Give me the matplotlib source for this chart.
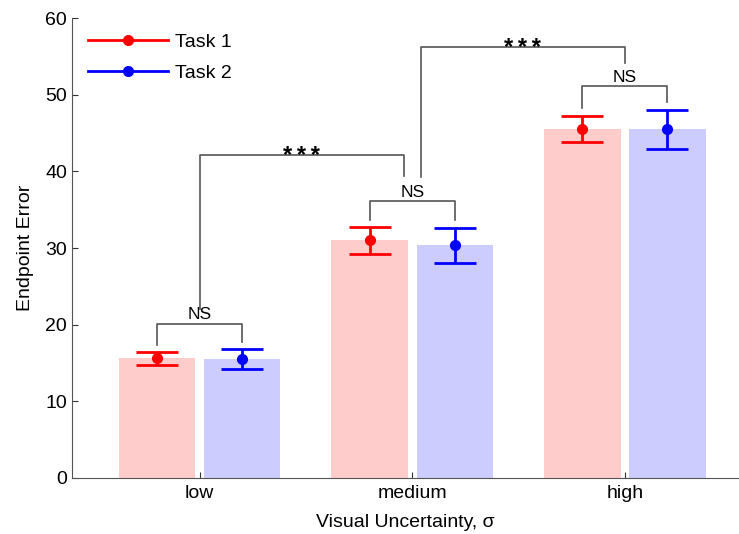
import numpy as np
from matplotlib import pyplot as plt

plt.rcParams['font.family'] = ['Liberation Sans', 'DejaVu Sans']

# endpoint error per uncertainty level
levels = ['low', 'medium', 'high']
task1_mean = [15.6, 31.0, 45.5]
task1_lo = [14.7, 29.2, 43.8]
task1_hi = [16.4, 32.8, 47.2]
task2_mean = [15.5, 30.4, 45.5]
task2_lo = [14.2, 28.1, 42.9]
task2_hi = [16.8, 32.6, 48.0]

x = np.arange(1, len(levels) + 1)
w = 0.36
off = 0.2

fig = plt.figure(figsize=(7.39, 5.34), dpi=100)
ax = fig.add_axes([0.0975, 0.105, 0.902, 0.861])

ax.bar(x - off, task1_mean, w, color='#ffcccc', zorder=1)
ax.bar(x + off, task2_mean, w, color='#ccccff', zorder=1)

for xs, m, lo, hi, c, lab in [(x - off, task1_mean, task1_lo, task1_hi, '#ff0000', 'Task 1'),
                              (x + off, task2_mean, task2_lo, task2_hi, '#0000ff', 'Task 2')]:
    m = np.array(m)
    err = [m - np.array(lo), np.array(hi) - m]
    ax.errorbar(xs, m, yerr=err, fmt='o', color=c, ms=7, elinewidth=2,
                capsize=15, capthick=2, zorder=3)
    ax.plot([], [], '-o', color=c, lw=2, ms=7, label=lab)


def bracket(x1, x2, y, y1, y2, text, stars=False):
    ax.plot([x1, x1, x2, x2], [y1, y, y, y2], color='#555555', lw=1.2, zorder=2)
    if stars:
        ax.text((x1 + x2) / 2, y - 1.0, '\u2009'.join(text), ha='center', va='baseline',
                fontsize=17, fontweight='bold')
    else:
        ax.text((x1 + x2) / 2, y + 0.2, text, ha='center', va='bottom', fontsize=12.5)


bracket(0.8, 1.2, 20.1, 17.4, 17.7, 'NS')
bracket(1.8, 2.2, 36.1, 33.6, 33.6, 'NS')
bracket(2.8, 3.2, 51.1, 48.3, 49.1, 'NS')
bracket(1.0, 1.96, 42.1, 22.0, 39.4, '***', stars=True)
bracket(2.04, 3.0, 56.2, 39.3, 54.2, '***', stars=True)

ax.set_xlim(0.4, 3.535)
ax.set_ylim(0, 60)
ax.set_xticks(x)
ax.set_xticklabels(levels)
ax.set_yticks(np.arange(0, 61, 10))
ax.tick_params(direction='in', length=4, labelsize=14, colors='#333333', labelcolor='black')
ax.tick_params(axis='x', pad=5)
ax.spines['top'].set_visible(False)
ax.spines['right'].set_visible(False)
for s in ['left', 'bottom']:
    ax.spines[s].set_color('#555555')
ax.set_ylabel('Endpoint Error', fontsize=14, labelpad=8)
ax.set_xlabel('Visual Uncertainty, \u03c3', fontsize=14, labelpad=9)

ax.legend(loc='upper left', bbox_to_anchor=(0.012, 0.984), frameon=False, fontsize=14,
          handlelength=4.1, borderaxespad=0, labelspacing=0.68, handletextpad=0.36)

fig.savefig('out.png', dpi=100)
